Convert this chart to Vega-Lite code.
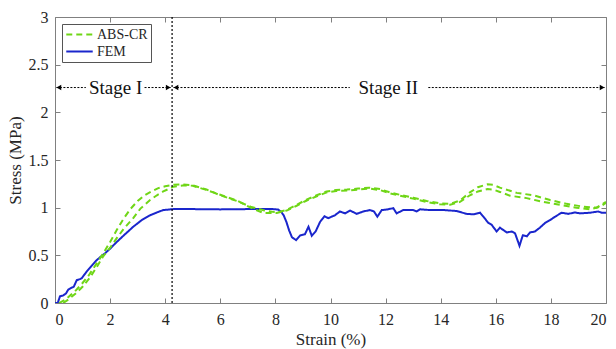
{
  "$schema": "https://vega.github.io/schema/vega-lite/v6.json",
  "width": 551,
  "height": 286,
  "autosize": {"type": "none"},
  "padding": {"left": 55, "top": 17, "right": 10, "bottom": 46},
  "background": "white",
  "config": {
    "font": "Liberation Serif",
    "view": {"stroke": null},
    "axis": {
      "grid": false,
      "domainColor": "#808080",
      "tickColor": "#808080",
      "tickSize": -5,
      "labelColor": "#262626",
      "titleColor": "#262626",
      "labelFont": "Liberation Serif",
      "titleFont": "Liberation Serif",
      "labelFontSize": 16,
      "titleFontSize": 17,
      "titleFontWeight": "normal"
    },
    "legend": {"labelFont": "Liberation Serif"}
  },
  "resolve": {"axis": {"x": "independent", "y": "independent"}},
  "layer": [
    {
      "data": {"values": [
        {"s":"FEM","r":"F","x":0,"y":0},{"s":"FEM","r":"F","x":0.1,"y":0.0},{"s":"FEM","r":"F","x":0.18,"y":0.07},{"s":"FEM","r":"F","x":0.3,"y":0.08},{"s":"FEM","r":"F","x":0.4,"y":0.1},{"s":"FEM","r":"F","x":0.48,"y":0.14},{"s":"FEM","r":"F","x":0.6,"y":0.16},{"s":"FEM","r":"F","x":0.68,"y":0.17},{"s":"FEM","r":"F","x":0.79,"y":0.24},{"s":"FEM","r":"F","x":0.9,"y":0.25},{"s":"FEM","r":"F","x":0.97,"y":0.26},{"s":"FEM","r":"F","x":1.15,"y":0.33},{"s":"FEM","r":"F","x":1.3,"y":0.38},{"s":"FEM","r":"F","x":1.51,"y":0.45},{"s":"FEM","r":"F","x":1.81,"y":0.52},{"s":"FEM","r":"F","x":2.0,"y":0.57},{"s":"FEM","r":"F","x":2.24,"y":0.64},{"s":"FEM","r":"F","x":2.5,"y":0.71},{"s":"FEM","r":"F","x":2.84,"y":0.8},{"s":"FEM","r":"F","x":3.15,"y":0.87},{"s":"FEM","r":"F","x":3.45,"y":0.92},{"s":"FEM","r":"F","x":3.7,"y":0.95},{"s":"FEM","r":"F","x":3.93,"y":0.975},{"s":"FEM","r":"F","x":4.3,"y":0.985},{"s":"FEM","r":"F","x":5,"y":0.985},{"s":"FEM","r":"F","x":6,"y":0.982},{"s":"FEM","r":"F","x":7,"y":0.985},{"s":"FEM","r":"F","x":7.9,"y":0.985},{"s":"FEM","r":"F","x":8.1,"y":0.98},{"s":"FEM","r":"F","x":8.2,"y":0.96},{"s":"FEM","r":"F","x":8.3,"y":0.92},{"s":"FEM","r":"F","x":8.4,"y":0.85},{"s":"FEM","r":"F","x":8.5,"y":0.76},{"s":"FEM","r":"F","x":8.6,"y":0.69},{"s":"FEM","r":"F","x":8.75,"y":0.66},{"s":"FEM","r":"F","x":8.9,"y":0.71},{"s":"FEM","r":"F","x":9.07,"y":0.72},{"s":"FEM","r":"F","x":9.2,"y":0.8},{"s":"FEM","r":"F","x":9.32,"y":0.705},{"s":"FEM","r":"F","x":9.46,"y":0.75},{"s":"FEM","r":"F","x":9.62,"y":0.85},{"s":"FEM","r":"F","x":9.78,"y":0.91},{"s":"FEM","r":"F","x":9.92,"y":0.89},{"s":"FEM","r":"F","x":10.16,"y":0.92},{"s":"FEM","r":"F","x":10.34,"y":0.96},{"s":"FEM","r":"F","x":10.53,"y":0.94},{"s":"FEM","r":"F","x":10.71,"y":0.97},{"s":"FEM","r":"F","x":10.95,"y":0.935},{"s":"FEM","r":"F","x":11.19,"y":0.96},{"s":"FEM","r":"F","x":11.43,"y":0.975},{"s":"FEM","r":"F","x":11.58,"y":0.96},{"s":"FEM","r":"F","x":11.7,"y":0.905},{"s":"FEM","r":"F","x":11.86,"y":0.975},{"s":"FEM","r":"F","x":12.04,"y":0.98},{"s":"FEM","r":"F","x":12.28,"y":0.995},{"s":"FEM","r":"F","x":12.4,"y":0.94},{"s":"FEM","r":"F","x":12.64,"y":0.975},{"s":"FEM","r":"F","x":13.0,"y":0.975},{"s":"FEM","r":"F","x":13.13,"y":0.96},{"s":"FEM","r":"F","x":13.25,"y":0.983},{"s":"FEM","r":"F","x":13.6,"y":0.975},{"s":"FEM","r":"F","x":14.1,"y":0.975},{"s":"FEM","r":"F","x":14.58,"y":0.965},{"s":"FEM","r":"F","x":14.94,"y":0.935},{"s":"FEM","r":"F","x":15.18,"y":0.93},{"s":"FEM","r":"F","x":15.43,"y":0.947},{"s":"FEM","r":"F","x":15.55,"y":0.905},{"s":"FEM","r":"F","x":15.73,"y":0.84},{"s":"FEM","r":"F","x":15.85,"y":0.82},{"s":"FEM","r":"F","x":16.03,"y":0.75},{"s":"FEM","r":"F","x":16.15,"y":0.79},{"s":"FEM","r":"F","x":16.4,"y":0.74},{"s":"FEM","r":"F","x":16.58,"y":0.75},{"s":"FEM","r":"F","x":16.7,"y":0.73},{"s":"FEM","r":"F","x":16.86,"y":0.6},{"s":"FEM","r":"F","x":16.98,"y":0.71},{"s":"FEM","r":"F","x":17.13,"y":0.7},{"s":"FEM","r":"F","x":17.24,"y":0.74},{"s":"FEM","r":"F","x":17.42,"y":0.75},{"s":"FEM","r":"F","x":17.6,"y":0.79},{"s":"FEM","r":"F","x":17.79,"y":0.84},{"s":"FEM","r":"F","x":17.97,"y":0.87},{"s":"FEM","r":"F","x":18.15,"y":0.905},{"s":"FEM","r":"F","x":18.39,"y":0.947},{"s":"FEM","r":"F","x":18.63,"y":0.935},{"s":"FEM","r":"F","x":18.87,"y":0.95},{"s":"FEM","r":"F","x":19.06,"y":0.94},{"s":"FEM","r":"F","x":19.42,"y":0.947},{"s":"FEM","r":"F","x":19.72,"y":0.96},{"s":"FEM","r":"F","x":19.84,"y":0.947},{"s":"FEM","r":"F","x":20,"y":0.947},

        {"s":"ABS-CR","r":"A","x":0.15,"y":0},{"s":"ABS-CR","r":"A","x":0.4,"y":0.04},{"s":"ABS-CR","r":"A","x":0.75,"y":0.13},{"s":"ABS-CR","r":"A","x":1.0,"y":0.21},{"s":"ABS-CR","r":"A","x":1.25,"y":0.3},{"s":"ABS-CR","r":"A","x":1.5,"y":0.41},{"s":"ABS-CR","r":"A","x":1.75,"y":0.52},{"s":"ABS-CR","r":"A","x":2.0,"y":0.64},{"s":"ABS-CR","r":"A","x":2.25,"y":0.77},{"s":"ABS-CR","r":"A","x":2.5,"y":0.89},{"s":"ABS-CR","r":"A","x":2.75,"y":0.99},{"s":"ABS-CR","r":"A","x":3.0,"y":1.07},{"s":"ABS-CR","r":"A","x":3.25,"y":1.13},{"s":"ABS-CR","r":"A","x":3.5,"y":1.17},{"s":"ABS-CR","r":"A","x":3.75,"y":1.205},{"s":"ABS-CR","r":"A","x":4.0,"y":1.225},{"s":"ABS-CR","r":"A","x":4.3,"y":1.24},{"s":"ABS-CR","r":"A","x":4.6,"y":1.245},{"s":"ABS-CR","r":"A","x":5.0,"y":1.235},{"s":"ABS-CR","r":"A","x":5.5,"y":1.19},{"s":"ABS-CR","r":"A","x":6.0,"y":1.13},{"s":"ABS-CR","r":"A","x":6.6,"y":1.07},{"s":"ABS-CR","r":"A","x":7.1,"y":1.01},{"s":"ABS-CR","r":"A","x":7.6,"y":0.97},{"s":"ABS-CR","r":"A","x":8.05,"y":0.95},{"s":"ABS-CR","r":"A","x":8.41,"y":0.975},{"s":"ABS-CR","r":"A","x":8.77,"y":1.03},{"s":"ABS-CR","r":"A","x":9.1,"y":1.08},{"s":"ABS-CR","r":"A","x":9.5,"y":1.13},{"s":"ABS-CR","r":"A","x":9.86,"y":1.17},{"s":"ABS-CR","r":"A","x":10.2,"y":1.185},{"s":"ABS-CR","r":"A","x":10.6,"y":1.19},{"s":"ABS-CR","r":"A","x":11.0,"y":1.2},{"s":"ABS-CR","r":"A","x":11.4,"y":1.21},{"s":"ABS-CR","r":"A","x":11.8,"y":1.195},{"s":"ABS-CR","r":"A","x":12.16,"y":1.16},{"s":"ABS-CR","r":"A","x":12.52,"y":1.135},{"s":"ABS-CR","r":"A","x":13.0,"y":1.105},{"s":"ABS-CR","r":"A","x":13.49,"y":1.07},{"s":"ABS-CR","r":"A","x":13.97,"y":1.045},{"s":"ABS-CR","r":"A","x":14.34,"y":1.04},{"s":"ABS-CR","r":"A","x":14.7,"y":1.075},{"s":"ABS-CR","r":"A","x":15.06,"y":1.16},{"s":"ABS-CR","r":"A","x":15.35,"y":1.215},{"s":"ABS-CR","r":"A","x":15.7,"y":1.245},{"s":"ABS-CR","r":"A","x":15.9,"y":1.24},{"s":"ABS-CR","r":"A","x":16.15,"y":1.21},{"s":"ABS-CR","r":"A","x":16.76,"y":1.155},{"s":"ABS-CR","r":"A","x":17.36,"y":1.13},{"s":"ABS-CR","r":"A","x":17.97,"y":1.08},{"s":"ABS-CR","r":"A","x":18.57,"y":1.04},{"s":"ABS-CR","r":"A","x":19.18,"y":1.01},{"s":"ABS-CR","r":"A","x":19.66,"y":1.0},{"s":"ABS-CR","r":"A","x":20,"y":1.06},

        {"s":"ABS-CR","r":"B","x":0.3,"y":0},{"s":"ABS-CR","r":"B","x":0.5,"y":0.04},{"s":"ABS-CR","r":"B","x":0.75,"y":0.1},{"s":"ABS-CR","r":"B","x":1.0,"y":0.17},{"s":"ABS-CR","r":"B","x":1.25,"y":0.26},{"s":"ABS-CR","r":"B","x":1.5,"y":0.37},{"s":"ABS-CR","r":"B","x":1.75,"y":0.49},{"s":"ABS-CR","r":"B","x":2.0,"y":0.58},{"s":"ABS-CR","r":"B","x":2.24,"y":0.68},{"s":"ABS-CR","r":"B","x":2.5,"y":0.78},{"s":"ABS-CR","r":"B","x":2.84,"y":0.89},{"s":"ABS-CR","r":"B","x":3.1,"y":0.99},{"s":"ABS-CR","r":"B","x":3.45,"y":1.08},{"s":"ABS-CR","r":"B","x":3.7,"y":1.13},{"s":"ABS-CR","r":"B","x":3.93,"y":1.17},{"s":"ABS-CR","r":"B","x":4.3,"y":1.22},{"s":"ABS-CR","r":"B","x":4.7,"y":1.235},{"s":"ABS-CR","r":"B","x":5.0,"y":1.23},{"s":"ABS-CR","r":"B","x":5.5,"y":1.185},{"s":"ABS-CR","r":"B","x":6.0,"y":1.135},{"s":"ABS-CR","r":"B","x":6.6,"y":1.075},{"s":"ABS-CR","r":"B","x":7.1,"y":1.0},{"s":"ABS-CR","r":"B","x":7.56,"y":0.945},{"s":"ABS-CR","r":"B","x":8.05,"y":0.945},{"s":"ABS-CR","r":"B","x":8.41,"y":0.97},{"s":"ABS-CR","r":"B","x":8.77,"y":1.02},{"s":"ABS-CR","r":"B","x":9.1,"y":1.07},{"s":"ABS-CR","r":"B","x":9.5,"y":1.12},{"s":"ABS-CR","r":"B","x":9.86,"y":1.16},{"s":"ABS-CR","r":"B","x":10.2,"y":1.175},{"s":"ABS-CR","r":"B","x":10.6,"y":1.18},{"s":"ABS-CR","r":"B","x":11.0,"y":1.19},{"s":"ABS-CR","r":"B","x":11.4,"y":1.2},{"s":"ABS-CR","r":"B","x":11.8,"y":1.185},{"s":"ABS-CR","r":"B","x":12.16,"y":1.15},{"s":"ABS-CR","r":"B","x":12.52,"y":1.125},{"s":"ABS-CR","r":"B","x":13.0,"y":1.095},{"s":"ABS-CR","r":"B","x":13.49,"y":1.06},{"s":"ABS-CR","r":"B","x":13.97,"y":1.035},{"s":"ABS-CR","r":"B","x":14.34,"y":1.03},{"s":"ABS-CR","r":"B","x":14.7,"y":1.06},{"s":"ABS-CR","r":"B","x":15.06,"y":1.13},{"s":"ABS-CR","r":"B","x":15.35,"y":1.17},{"s":"ABS-CR","r":"B","x":15.7,"y":1.195},{"s":"ABS-CR","r":"B","x":15.9,"y":1.19},{"s":"ABS-CR","r":"B","x":16.15,"y":1.165},{"s":"ABS-CR","r":"B","x":16.52,"y":1.125},{"s":"ABS-CR","r":"B","x":17.12,"y":1.1},{"s":"ABS-CR","r":"B","x":17.72,"y":1.06},{"s":"ABS-CR","r":"B","x":18.33,"y":1.03},{"s":"ABS-CR","r":"B","x":18.93,"y":1.0},{"s":"ABS-CR","r":"B","x":19.42,"y":0.983},{"s":"ABS-CR","r":"B","x":19.78,"y":1.01},{"s":"ABS-CR","r":"B","x":20,"y":1.05}
      ]},
      "mark": {"type": "line", "strokeWidth": 2, "clip": true},
      "encoding": {
        "x": {"field": "x", "type": "quantitative", "scale": {"domain": [0, 20], "nice": false}, "axis": {"title": "Strain (%)", "values": [0,2,4,6,8,10,12,14,16,18,20], "format": "~g", "labelPadding": 13, "titlePadding": 4, "labelFont": "Liberation Serif", "titleFont": "Liberation Serif", "labelFontSize": 16, "titleFontSize": 17}},
        "y": {"field": "y", "type": "quantitative", "scale": {"domain": [0, 3], "nice": false}, "axis": {"title": "Stress (MPa)", "values": [0,0.5,1,1.5,2,2.5,3], "format": "~g", "labelPadding": 12, "titlePadding": 4, "labelFont": "Liberation Serif", "titleFont": "Liberation Serif", "labelFontSize": 16, "titleFontSize": 17}},
        "detail": {"field": "r"},
        "color": {"field": "s", "type": "nominal", "title": null, "scale": {"domain": ["ABS-CR", "FEM"], "range": ["#6fd616", "#1a26cc"]},
          "legend": {"orient": "none", "legendX": 7, "legendY": 7, "strokeColor": "#555555", "fillColor": "white", "padding": 3, "symbolType": "stroke", "symbolSize": 700, "symbolStrokeWidth": 2, "clipHeight": 15, "labelFontSize": 14, "labelFont": "Liberation Serif", "labelColor": "#262626", "rowPadding": 2, "labelOffset": 3}},
        "strokeDash": {"field": "s", "type": "nominal", "title": null, "scale": {"domain": ["ABS-CR", "FEM"], "range": [[6, 4], [1, 0]]},
          "legend": {"orient": "none", "legendX": 7, "legendY": 7, "strokeColor": "#555555", "fillColor": "white", "padding": 3, "symbolType": "stroke", "symbolSize": 700, "symbolStrokeWidth": 2, "clipHeight": 15, "labelFontSize": 14, "labelFont": "Liberation Serif", "labelColor": "#262626", "rowPadding": 2, "labelOffset": 3}}
      }
    },
    {
      "data": {"values": [{"x": 4.25}]},
      "mark": {"type": "rule", "color": "black", "strokeWidth": 1.2, "strokeDash": [2, 2]},
      "encoding": {
        "x": {"field": "x", "type": "quantitative", "axis": {"orient": "top", "labels": false, "title": null, "values": [0,2,4,6,8,10,12,14,16,18,20]}}
      }
    },
    {
      "data": {"values": [
        {"x": 0.05, "x2": 1.12, "y": 2.26},
        {"x": 3.25, "x2": 4.2, "y": 2.26},
        {"x": 4.3, "x2": 10.7, "y": 2.26},
        {"x": 13.55, "x2": 19.95, "y": 2.26}
      ]},
      "mark": {"type": "rule", "color": "black", "strokeWidth": 1, "strokeDash": [2, 1.5]},
      "encoding": {
        "x": {"field": "x", "type": "quantitative", "axis": null},
        "x2": {"field": "x2"},
        "y": {"field": "y", "type": "quantitative", "axis": {"orient": "right", "labels": false, "title": null, "values": [0,0.5,1,1.5,2,2.5,3]}}
      }
    },
    {
      "data": {"values": [
        {"x": 0.14, "y": 2.26, "d": "triangle-left"},
        {"x": 4.11, "y": 2.26, "d": "triangle-right"},
        {"x": 4.39, "y": 2.26, "d": "triangle-left"},
        {"x": 19.86, "y": 2.26, "d": "triangle-right"}
      ]},
      "mark": {"type": "point", "filled": true, "color": "black", "size": 30, "opacity": 1},
      "encoding": {
        "x": {"field": "x", "type": "quantitative", "axis": null},
        "y": {"field": "y", "type": "quantitative", "axis": null},
        "shape": {"field": "d", "type": "nominal", "scale": null, "legend": null}
      }
    },
    {
      "data": {"values": [
        {"x": 2.2, "y": 2.26, "t": "Stage I"},
        {"x": 12.1, "y": 2.26, "t": "Stage II"}
      ]},
      "mark": {"type": "text", "font": "Liberation Serif", "fontSize": 19, "color": "#111111", "align": "center", "baseline": "middle"},
      "encoding": {
        "x": {"field": "x", "type": "quantitative", "axis": null},
        "y": {"field": "y", "type": "quantitative", "axis": null},
        "text": {"field": "t"}
      }
    }
  ]
}
